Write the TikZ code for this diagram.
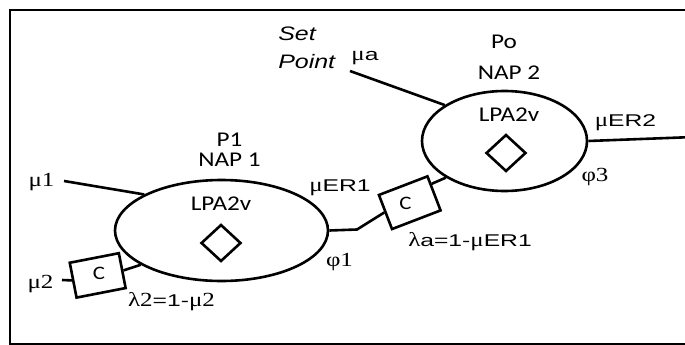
\documentclass[tikz,border=0pt]{standalone}
\usepackage{fontspec}
\usetikzlibrary{shapes.geometric,calc}
\newfontfamily\calf[FakeStretch=1.2]{Carlito}
\newfontfamily\arf[FakeStretch=1.45]{Liberation Sans}
\newfontfamily\arif[FakeStretch=1.28]{Liberation Sans}
\newfontfamily\gkf[FakeStretch=1.25]{Liberation Serif}
\newcommand\labfont{\fontsize{21}{25}\selectfont\calf}
\newcommand\cfont{\fontsize{19}{23}\selectfont\calf}
\newcommand\snsfont{\fontsize{17}{20}\selectfont\arf}
\newcommand\setfont{\fontsize{19.5}{23}\selectfont\arif\itshape}
\newcommand\grkt[1]{{\fontsize{20}{23}\selectfont\gkf #1}}
\begin{document}
\begin{tikzpicture}[x=1pt,y=-1pt, line width=2.6pt,
  txt/.style={inner sep=0pt, anchor=base},
  nap/.style={draw, ellipse, inner sep=0pt},
  dmd/.style={draw, diamond, inner sep=0pt, minimum width=40pt, minimum height=37pt},
  cbox/.style={draw, rectangle, inner sep=0pt, minimum width=50pt, minimum height=35.5pt}]
\useasboundingbox (0,0) rectangle (685,345);
\draw[line width=2.6pt] (685,10) -- (10,10) -- (10,344) -- (685,344);

\node[nap, minimum width=213pt, minimum height=101pt] (e1) at (221.5,230.5) {};
\node[nap, minimum width=165pt, minimum height=100pt] (e2) at (504.5,141) {};
\node[dmd] (d1) at (221,243) {};
\node[dmd] (d2) at (506,153) {};
\node[cbox, rotate=11] (c1) at (97.7,275.4) {};
\node[cbox, rotate=21, minimum width=52pt, minimum height=36.5pt] (c2) at (409.75,202.7) {};

\node[txt] (p1) at (229.5,146.7) {\labfont P1};
\node[txt] (nap1) at (229.5,166.7) {\labfont NAP 1};
\node[txt] (lpa1) at (221,210) {\labfont LPA2v};
\node[txt] (po) at (504,48.3) {\labfont Po};
\node[txt] (nap2) at (509,79) {\labfont NAP 2};
\node[txt] (lpa2) at (509,121.7) {\labfont LPA2v};
\node[txt, anchor=base west] (set) at (277,40.7) {\setfont Set};
\node[txt, anchor=base west] (point) at (277,68.3) {\setfont Point};
\node[txt] (mua) at (365,60) {\grkt{μ}{\snsfont a}};
\node[txt] (muer2) at (625.5,126.7) {\grkt{μ}{\snsfont ER2}};
\node[txt] (phi3) at (595,181) {\grkt{φ3}};
\node[txt] (muer1) at (340,191.7) {\grkt{μ}{\snsfont ER1}};
\node[txt] (phi1) at (339.5,266) {\grkt{φ1}};
\node[txt] (lama) at (470,246.7) {\grkt{λ}{\snsfont a=1-}\grkt{μ}{\snsfont ER1}};
\node[txt] (lam2) at (171.5,306.7) {\grkt{λ2}{\snsfont =1-}\grkt{μ2}};
\node[txt] (mu2) at (40.5,288) {\grkt{μ2}};
\node[txt] (mu1) at (41.5,186.7) {\grkt{μ1}};
\node[txt] (cl1) at (99,279.3) {\cfont C};
\node[txt] (cl2) at (405.5,209.3) {\cfont C};

\coordinate (m1end) at (64,181);
\draw (m1end) -- (e1.155.7);
\coordinate (m2end) at (62,280);
\draw (m2end) -- (c1.west);
\draw (c1.east) -- (e1.203.8);
\coordinate (bend) at (357,229.5);
\draw (e1.east) -- (bend) -- (c2.west);
\draw ($(c2.north east)!0.25!(c2.south east)$) -- (e2.212.1);
\coordinate (maend) at (350,71);
\draw (maend) -- (e2.149.5);
\coordinate (outR) at (686,137.3);
\draw (e2.east) -- (outR);
\end{tikzpicture}
\end{document}
